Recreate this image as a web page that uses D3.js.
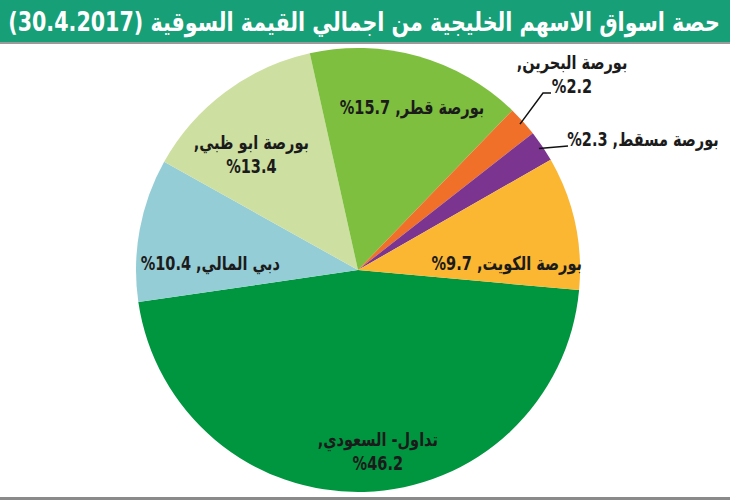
<!DOCTYPE html>
<html>
<head>
<meta charset="utf-8">
<script src="https://cdn.jsdelivr.net/npm/d3@7"></script>
<style>
  body { margin: 0; background: #fff; }
  text { font-family: "Liberation Sans Narrow", "Arial Narrow", "DejaVu Sans Condensed", "DejaVu Sans", sans-serif; }
</style>
</head>
<body>
<div id="chart"></div>
<script>
// market names (Arabic), share of total GCC market value (%)
var markets = ["تداول- السعودي", "دبي المالي", "بورصة ابو ظبي", "بورصة قطر", "بورصة البحرين", "بورصة مسقط", "بورصة الكويت"];
var shares = [46.2, 10.4, 13.4, 15.7, 2.2, 2.3, 9.7];
var colors = ["#00953f", "#95cdd6", "#cddfa1", "#7fbf40", "#f0702a", "#7b3590", "#fbb732"];
var title = "حصة اسواق الاسهم الخليجية من اجمالي القيمة السوقية (30.4.2017)";

var w = 730, h = 500;
var cx = 358, cy = 270, r = 222;

var svg = d3.select("#chart")
  .append("svg")
  .attr("width", w)
  .attr("height", h);

// header bar
svg.append("rect")
  .attr("x", 0).attr("y", 0)
  .attr("width", w).attr("height", 42)
  .attr("fill", "#17a078");
svg.append("rect")
  .attr("x", 0).attr("y", 42)
  .attr("width", w).attr("height", 2)
  .attr("fill", "#9a9a9a");
svg.append("rect")
  .attr("x", 0).attr("y", 497)
  .attr("width", w).attr("height", 3)
  .attr("fill", "#8a8a8a");

var titleText = svg.append("text")
  .attr("x", 0)
  .attr("y", 0)
  .attr("text-anchor", "middle")
  .attr("direction", "rtl")
  .attr("font-size", "26px")
  .attr("font-weight", "bold")
  .attr("fill", "white")
  .text(title);

// squeeze title to the bar width
var tw = titleText.node().getComputedTextLength();
var sx = Math.min(1, 712 / tw);
titleText.attr("transform", "translate(" + (w / 2 - 1) + ",31) scale(" + sx + ",1)");

var data = markets.map((m, i) => ({ name: m, value: shares[i], color: colors[i] }));

// pie starts just below 3 o'clock and runs clockwise
var start = 95.2 * Math.PI / 180;
var pie = d3.pie()
  .sort(null)
  .value(d => d.value)
  .startAngle(start)
  .endAngle(start + 2 * Math.PI);

var arc = d3.arc().innerRadius(0).outerRadius(r);
var labelArc = d3.arc().innerRadius(140).outerRadius(140);
var edgeArc = d3.arc().innerRadius(r - 4).outerRadius(r - 4);

var g = svg.append("g")
  .attr("transform", "translate(" + cx + "," + cy + ")");

var arcs = pie(data);

g.selectAll("path")
  .data(arcs)
  .enter()
  .append("path")
  .attr("d", arc)
  .attr("fill", d => d.data.color);

// label layout: shift from label-arc centroid, and whether it is split on two lines
var labelLayout = [
  { dx: 16, dy: 40, two: true },
  { dx: -10, dy: 18, two: false },
  { dx: -23, dy: -5, two: true },
  { dx: 16, dy: -28, two: false },
  { out: [214, -197], two: true, leader: [[185, -177], [193, -177]] },
  { out: [285, -131], two: false, leader: [[210, -124]] },
  { dx: 12, dy: 23, two: false }
];

var labels = g.selectAll(".label")
  .data(arcs)
  .enter()
  .append("g")
  .attr("class", "label")
  .attr("transform", function(d, i) {
    var L = labelLayout[i];
    if (L.out) return "translate(" + L.out[0] + "," + L.out[1] + ") scale(0.85,1)";
    var c = labelArc.centroid(d);
    return "translate(" + (c[0] + L.dx) + "," + (c[1] + L.dy) + ") scale(0.85,1)";
  });

labels.each(function(d, i) {
  var L = labelLayout[i];
  var sel = d3.select(this);
  // isolate the number so the % stays on its left
  var pct = "\u2066%" + d.data.value.toFixed(1) + "\u2069";
  var lines = L.two ? [d.data.name + ",", pct] : [d.data.name + ", " + pct];
  lines.forEach(function(t, k) {
    sel.append("text")
      .attr("x", 0)
      .attr("y", L.two ? (k === 0 ? -4 : 20) : 7)
      .attr("text-anchor", "middle")
      .attr("direction", "rtl")
      .attr("font-size", "19px")
      .attr("font-weight", "bold")
      .attr("fill", "#1b1b1b")
      .text(t);
  });
});

// leader lines for the two thin slices
arcs.forEach(function(d, i) {
  var L = labelLayout[i];
  if (!L.leader) return;
  var pts = [edgeArc.centroid(d)].concat(L.leader);
  g.append("path")
    .attr("d", d3.line()(pts))
    .attr("fill", "none")
    .attr("stroke", "#111")
    .attr("stroke-width", 1.5);
});
</script>
</body>
</html>
